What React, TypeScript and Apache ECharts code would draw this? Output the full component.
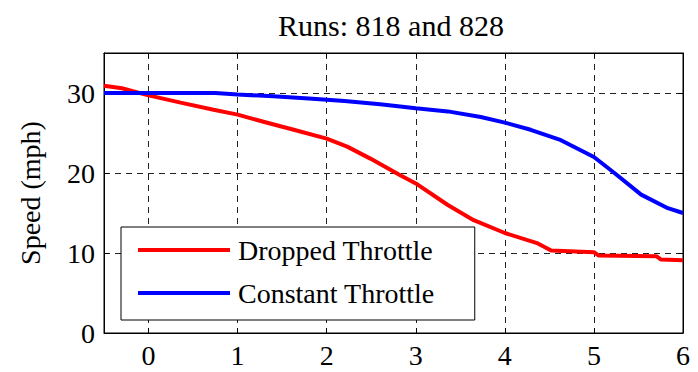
import React, { useEffect, useRef } from "react";
import * as echarts from "echarts";

const titleText = "Runs: 818 and 828";
const yAxisName = "Speed (mph)";
const seriesNames = ["Dropped Throttle", "Constant Throttle"];

const droppedX = [-0.5, -0.3, 0, 0.36, 0.73, 1.0, 1.29, 1.63, 2.0, 2.23, 2.49, 2.81, 3.0, 3.36, 3.65, 4.0, 4.37, 4.52, 5.0, 5.05, 5.7, 5.75, 6.0];
const droppedY = [30.9, 30.6, 29.7, 28.8, 27.9, 27.3, 26.4, 25.4, 24.3, 23.3, 21.8, 19.8, 18.7, 16.0, 14.1, 12.5, 11.2, 10.3, 10.1, 9.7, 9.6, 9.2, 9.1];

const constantX = [-0.5, 0.75, 1.0, 1.4, 1.8, 2.2, 2.6, 3.0, 3.36, 3.73, 4.0, 4.29, 4.63, 5.0, 5.23, 5.53, 5.83, 6.0];
const constantY = [30.0, 30.0, 29.8, 29.6, 29.3, 29.0, 28.6, 28.1, 27.7, 27.0, 26.3, 25.4, 24.1, 22.0, 20.0, 17.3, 15.6, 15.0];

const FONT = "Liberation Serif";
const FS = 28;

export default function App() {
  const ref = useRef<HTMLDivElement>(null);
  useEffect(() => {
    if (!ref.current) return;
    const chart = echarts.init(ref.current, undefined, { renderer: "svg" });
    const dashed = { show: true, lineStyle: { color: "#222", width: 1, type: [6, 5] as any } };
    const tick = { show: true, inside: true, length: 5, lineStyle: { color: "#000" } };
    const axLine = { show: true, onZero: false, lineStyle: { color: "#000" } };
    chart.setOption({
      animation: false,
      backgroundColor: "#fff",
      title: {
        text: titleText,
        left: 386,
        top: 3,
        textAlign: "center",
        textStyle: { fontFamily: FONT, fontSize: 30, fontWeight: "normal", color: "#000", lineHeight: 34 },
      },
      grid: { left: 104, right: 15, top: 53, bottom: 39, show: true, borderColor: "#000", borderWidth: 1 },
      legend: {
        orient: "vertical",
        left: 121,
        top: 227,
        padding: [9, 40, 13, 17],
        itemGap: 15,
        itemWidth: 92,
        itemHeight: 4,
        icon: "rect",
        borderColor: "#000",
        borderWidth: 1,
        backgroundColor: "#fff",
        textStyle: { fontFamily: FONT, fontSize: FS, lineHeight: 28, color: "#000", padding: [0, 0, 0, 3] },
        data: seriesNames,
      },
      xAxis: [
        {
          type: "value",
          min: -0.5,
          max: 6,
          splitNumber: 6,
          axisLine: axLine,
          axisTick: tick,
          axisLabel: {
            fontFamily: FONT,
            fontSize: FS,
            color: "#000",
            margin: 8,
            formatter: (v: number) => (Number.isInteger(v) ? String(v) : ""),
          },
          splitLine: dashed,
        },
        {
          type: "value",
          position: "top",
          min: -0.5,
          max: 6,
          splitNumber: 6,
          axisLine: axLine,
          axisTick: tick,
          axisLabel: { show: false },
          splitLine: { show: false },
        },
      ],
      yAxis: [
        {
          type: "value",
          min: 0,
          max: 35,
          interval: 10,
          name: yAxisName,
          nameLocation: "middle",
          nameRotate: 90,
          nameGap: 60,
          nameTextStyle: { fontFamily: FONT, fontSize: FS, color: "#000" },
          axisLine: axLine,
          axisTick: tick,
          axisLabel: {
            fontFamily: FONT,
            fontSize: FS,
            color: "#000",
            margin: 9,
            formatter: (v: number) => (v % 10 === 0 ? String(v) : ""),
          },
          splitLine: dashed,
        },
        {
          type: "value",
          position: "right",
          min: 0,
          max: 35,
          interval: 10,
          axisLine: axLine,
          axisTick: tick,
          axisLabel: { show: false },
          splitLine: { show: false },
        },
      ],
      series: [
        {
          name: seriesNames[0],
          type: "line",
          showSymbol: false,
          symbol: "none",
          lineStyle: { color: "#ff0000", width: 4 },
          itemStyle: { color: "#ff0000" },
          data: droppedX.map((x, i) => [x, droppedY[i]]),
        },
        {
          name: seriesNames[1],
          type: "line",
          showSymbol: false,
          symbol: "none",
          lineStyle: { color: "#0000ff", width: 4 },
          itemStyle: { color: "#0000ff" },
          data: constantX.map((x, i) => [x, constantY[i]]),
        },
      ],
    });
    return () => chart.dispose();
  }, []);
  return <div ref={ref} style={{ width: 698, height: 372, position: "absolute", left: 0, top: 0 }} />;
}
